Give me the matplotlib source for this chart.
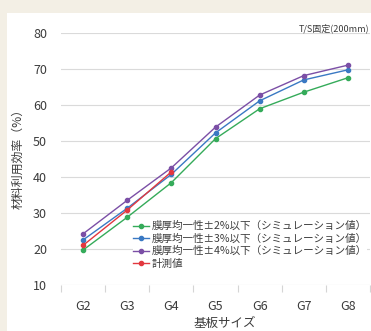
import matplotlib
matplotlib.use("Agg")
import matplotlib.pyplot as plt
from matplotlib.patches import Rectangle
from matplotlib.ticker import FixedLocator

plt.rcParams["font.family"] = ["Noto Sans CJK JP", "DejaVu Sans"]

# ── data ────────────────────────────────────────────────────────────────
sizes = ["G2", "G3", "G4", "G5", "G6", "G7", "G8"]
sim_2pct = [19.7, 28.8, 38.4, 50.6, 58.9, 63.5, 67.5]
sim_3pct = [22.5, 31.3, 40.7, 52.2, 61.1, 66.9, 69.7]
sim_4pct = [24.2, 33.5, 42.5, 53.8, 62.7, 68.1, 71.0]
measured = [21.0, 30.8, 41.4]

series = [
    (sim_2pct, "膜厚均一性±2%以下（シミュレーション値）", "#35ab5a"),
    (sim_3pct, "膜厚均一性±3%以下（シミュレーション値）", "#3a79c3"),
    (sim_4pct, "膜厚均一性±4%以下（シミュレーション値）", "#7b4fa6"),
    (measured, "計測値", "#e2383f"),
]

TXT = "#3c3c3c"
W, H = 371, 331

fig = plt.figure(figsize=(W / 100, H / 100), dpi=100)
fig.patch.set_facecolor("#f3efe5")
fig.patches.append(Rectangle((7 / W, 0), 1, 1 - 13 / H, transform=fig.transFigure,
                             facecolor="white", edgecolor="none", zorder=-10))

ax = fig.add_axes([61 / W, 1 - 285 / H, 309 / W, (285 - 32.7) / H])
ax.set_facecolor("white")

for vals, lbl, col in series:
    ax.plot(range(len(vals)), vals, "-o", color=col, lw=1.0, ms=3.0, label=lbl)

ax.set_xlim(-0.5, len(sizes) - 0.5)
ax.set_ylim(10, 80)
ax.set_yticks(range(10, 81, 10))
ax.set_xticks(range(len(sizes)))
ax.set_xticklabels(sizes)
ax.xaxis.set_minor_locator(FixedLocator([i + 0.5 for i in range(-1, len(sizes))]))
ax.tick_params(axis="x", which="major", length=0, pad=11, labelsize=9, colors=TXT)
ax.tick_params(axis="x", which="minor", length=5, color="#d5d5d5", width=0.8)
ax.tick_params(axis="y", length=0, pad=10, labelsize=9, colors=TXT)
ax.grid(axis="y", color="#dadada", lw=0.8)
ax.set_axisbelow(True)
for s in ax.spines.values():
    s.set_visible(False)

fig.text(225 / W, 1 - 323 / H, "基板サイズ", ha="center", va="center",
         fontsize=9, color=TXT)
fig.text(18 / W, 1 - 156 / H, "材料利用効率（%）", ha="center", va="center",
         rotation=90, fontsize=8.6, color=TXT)
fig.text(369 / W, 1 - 28 / H, "T/S固定(200mm)", ha="right", va="center",
         fontsize=6.5, color=TXT)

leg = ax.legend(loc="upper left", bbox_to_anchor=((133 - 61) / 309, (285 - 221) / 252.3),
                fontsize=7.6, frameon=True, framealpha=1, edgecolor="none",
                facecolor="white", handlelength=1.5, handletextpad=0.3,
                labelspacing=0.22, borderpad=0.0, borderaxespad=0.0)
for t in leg.get_texts():
    t.set_color(TXT)

fig.savefig("out.png", dpi=100, facecolor=fig.get_facecolor())
